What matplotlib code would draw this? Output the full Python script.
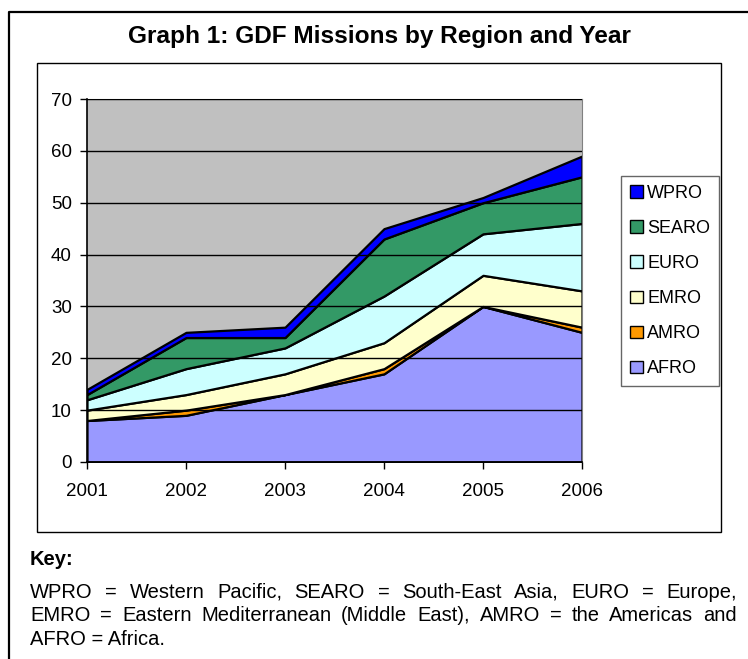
import numpy as np
import matplotlib.pyplot as plt
from matplotlib.patches import Patch, Rectangle
from matplotlib.lines import Line2D

plt.rcParams['font.family'] = ['Liberation Sans', 'DejaVu Sans']

# Missions per region and year (stacked)
years = ['2001', '2002', '2003', '2004', '2005', '2006']
afro = [8, 9, 13, 17, 30, 25]
amro = [0, 1, 0, 1, 0, 1]
emro = [2, 3, 4, 5, 6, 7]
euro = [2, 5, 5, 9, 8, 13]
searo = [1, 6, 2, 11, 6, 9]
wpro = [1, 1, 2, 2, 1, 4]

regions = ['AFRO', 'AMRO', 'EMRO', 'EURO', 'SEARO', 'WPRO']
colors = ['#9999FF', '#FF9900', '#FFFFCC', '#CCFFFF', '#339966', '#0000FF']

W, H = 748, 659
fig = plt.figure(figsize=(W / 100, H / 100), dpi=100)

# outer frame (top and left edges)
fig.add_artist(Line2D([9 / W, 9 / W, 1], [0, 1 - 12 / H, 1 - 12 / H],
                      transform=fig.transFigure, color='black', lw=1.6))

# chart box
fig.add_artist(Rectangle((37 / W, 1 - 532 / H), 684 / W, 469 / H,
                         transform=fig.transFigure, fill=False,
                         edgecolor='black', lw=1.0))

fig.text(379 / W, 1 - 37 / H, 'Graph 1: GDF Missions by Region and Year',
         ha='center', va='center', fontsize=17.6, fontweight='bold')

ax = fig.add_axes([87 / W, 1 - 462 / H, 495 / W, 363 / H])
ax.set_facecolor('#C0C0C0')
x = np.arange(len(years))
ax.stackplot(x, afro, amro, emro, euro, searo, wpro, colors=colors,
             edgecolor='black', linewidth=1.6)
ax.set_xlim(0, len(years) - 1)
ax.set_ylim(0, 70)
ax.set_yticks(range(0, 71, 10))
ax.set_xticks(x)
ax.set_xticklabels(years)
ax.yaxis.grid(True, color='black', lw=1.0)
ax.set_axisbelow(False)
for line in ax.get_ygridlines():
    line.set_zorder(0.5)
ax.tick_params(labelsize=13.5, length=5, width=1, direction='out')
ax.tick_params(axis='x', pad=10)
ax.tick_params(axis='y', pad=6)
ax.spines['left'].set_linewidth(1.2)
ax.spines['bottom'].set_linewidth(1.2)
ax.spines['top'].set_color('#808080')
ax.spines['right'].set_color('#808080')

handles = [Patch(facecolor=c, edgecolor='black', lw=1.0) for c in colors]
leg = fig.legend(handles[::-1], regions[::-1], loc='upper left',
                 bbox_to_anchor=(621 / W, 1 - 176 / H), fontsize=13,
                 frameon=True, fancybox=False, edgecolor='#404040',
                 handlelength=0.7, handleheight=0.7, handletextpad=0.25,
                 labelspacing=1.0, borderpad=0.5, borderaxespad=0)
leg.get_frame().set_linewidth(1.0)

# key text below the chart
fig.text(30 / W, 1 - 565 / H, 'Key:', fontsize=14.5, fontweight='bold',
         va='baseline')

key_lines = [
    'WPRO = Western Pacific, SEARO = South-East Asia, EURO = Europe,',
    'EMRO = Eastern Mediterranean (Middle East), AMRO = the Americas and',
    'AFRO = Africa.',
]
key_y = [598, 621, 645]
renderer = fig.canvas.get_renderer()
for i, (txt, yy) in enumerate(zip(key_lines, key_y)):
    words = txt.split(' ')
    if i == len(key_lines) - 1:
        fig.text(30 / W, 1 - yy / H, txt, fontsize=14.5, va='baseline')
        continue
    items = [fig.text(0, 1 - yy / H, w, fontsize=14.5, va='baseline')
             for w in words]
    widths = [t.get_window_extent(renderer).width for t in items]
    gap = (737 - 30 - sum(widths)) / (len(words) - 1)
    xp = 30
    for t, w in zip(items, widths):
        t.set_x(xp / W)
        xp += w + gap

fig.savefig('out.png', dpi=100)
